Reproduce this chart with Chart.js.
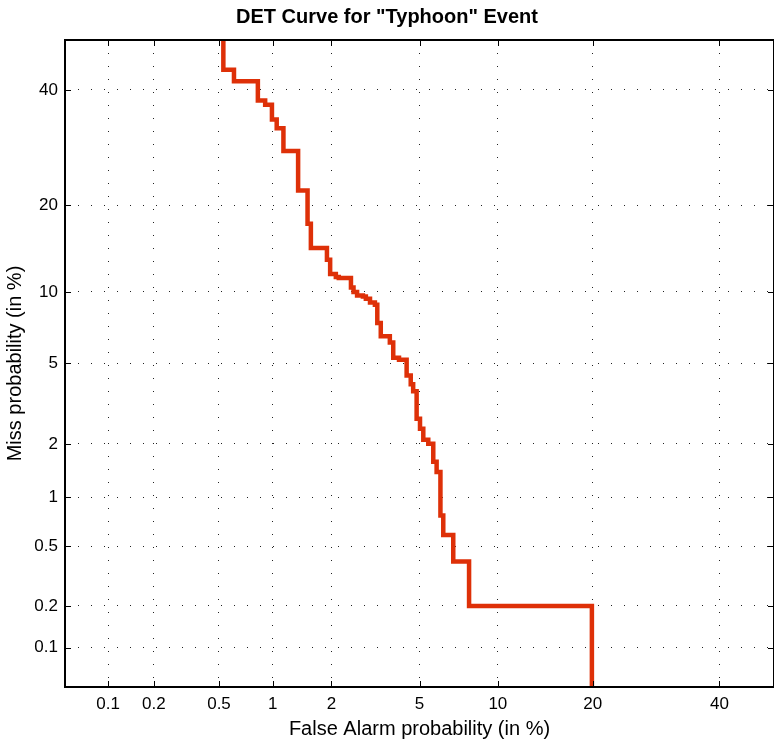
<!DOCTYPE html>
<html>
<head>
<meta charset="utf-8">
<script src="https://cdn.jsdelivr.net/npm/chart.js@4.4.1/dist/chart.umd.min.js"></script>
<style>
  html, body { margin: 0; padding: 0; background: #fff; }
  canvas { display: block; }
</style>
</head>
<body>
<canvas id="det" width="774" height="743"></canvas>
<script>
// DET curve, both axes on a normal-deviate (probit) scale, values in %

const xTicks = [0.1, 0.2, 0.5, 1, 2, 5, 10, 20, 40];
const xTickLabels = ['0.1', '0.2', '0.5', '1', '2', '5', '10', '20', '40'];
const yTicks = [0.1, 0.2, 0.5, 1, 2, 5, 10, 20, 40];
const yTickLabels = ['0.1', '0.2', '0.5', '1', '2', '5', '10', '20', '40'];
const axisMin = 0.05;   // %
const axisMax = 50;     // %

// operating points (corners of the staircase), false alarm % / miss %
const falseAlarm = [0.53, 0.61, 0.83, 0.91, 0.99, 1.05, 1.14, 1.36, 1.52, 1.58,
  1.90, 1.97, 2.10, 2.17, 2.48, 2.55, 2.65, 2.82, 2.91, 3.04,
  3.20, 3.28, 3.40, 3.73, 3.86, 4.09, 4.41, 4.59, 4.70, 4.86,
  5.02, 5.18, 5.43, 5.69, 5.87, 6.08, 6.24, 6.83, 7.85, 19.9, 19.9];
const missRate = [90, 44.0, 41.7, 37.9, 37.1, 34.3, 32.7, 28.6, 22.2, 17.5,
  14.5, 13.2, 11.7, 11.4, 11.3, 10.4, 10.0, 9.7, 9.6, 9.4,
  9.1, 8.9, 7.5, 6.6, 6.2, 5.3, 5.2, 4.4, 4.0, 3.7,
  2.7, 2.4, 2.1, 2.0, 1.6, 1.4, 0.78, 0.59, 0.40, 0.20, 0.02];

// inverse normal CDF (Acklam)
function probit(p) {
  const a = [-3.969683028665376e+01, 2.209460984245205e+02, -2.759285104469687e+02,
    1.383577518672690e+02, -3.066479806614716e+01, 2.506628277459239e+00];
  const b = [-5.447609879822406e+01, 1.615858368580409e+02, -1.556989798598866e+02,
    6.680131188771972e+01, -1.328068155288572e+01];
  const c = [-7.784894002430293e-03, -3.223964580411365e-01, -2.400758277161838e+00,
    -2.549671134902537e+00, 4.374664141464968e+00, 2.938163982698783e+00];
  const d = [7.784695709041462e-03, 3.224671290700398e-01, 2.445134137142996e+00,
    3.754408661907416e+00];
  const pl = 0.02425;
  if (p < pl) {
    const q = Math.sqrt(-2 * Math.log(p));
    return (((((c[0]*q + c[1])*q + c[2])*q + c[3])*q + c[4])*q + c[5]) /
           ((((d[0]*q + d[1])*q + d[2])*q + d[3])*q + 1);
  }
  if (p > 1 - pl) {
    const q = Math.sqrt(-2 * Math.log(1 - p));
    return -(((((c[0]*q + c[1])*q + c[2])*q + c[3])*q + c[4])*q + c[5]) /
            ((((d[0]*q + d[1])*q + d[2])*q + d[3])*q + 1);
  }
  const q = p - 0.5, r = q * q;
  return (((((a[0]*r + a[1])*r + a[2])*r + a[3])*r + a[4])*r + a[5]) * q /
         (((((b[0]*r + b[1])*r + b[2])*r + b[3])*r + b[4])*r + 1);
}
const pct = v => probit(v / 100);

const points = falseAlarm.map((fa, i) => ({ x: pct(fa), y: pct(missRate[i]) }));

const FONT = 'Liberation Sans, Arial, Helvetica, sans-serif';
Chart.defaults.font.family = FONT;
Chart.defaults.color = '#000';

// box around the plot + inward tick marks on all four sides (matlab look)
const boxTicks = {
  id: 'boxTicks',
  afterDatasetsDraw(chart) {
    const { ctx, chartArea: a, scales: { x, y } } = chart;
    const len = 6;
    ctx.save();
    ctx.strokeStyle = '#000';
    ctx.lineWidth = 1;
    ctx.beginPath();
    xTicks.forEach(t => {
      const px = Math.round(x.getPixelForValue(pct(t))) + 0.5;
      ctx.moveTo(px, a.bottom); ctx.lineTo(px, a.bottom - len);
      ctx.moveTo(px, a.top); ctx.lineTo(px, a.top + len);
    });
    yTicks.forEach(t => {
      const py = Math.round(y.getPixelForValue(pct(t))) + 0.5;
      ctx.moveTo(a.left, py); ctx.lineTo(a.left + len, py);
      ctx.moveTo(a.right, py); ctx.lineTo(a.right - len, py);
    });
    ctx.stroke();
    ctx.lineWidth = 2;
    ctx.strokeRect(a.left, a.top, a.right - a.left, a.bottom - a.top);
    ctx.restore();
  }
};

const dotted = {
  grid: { color: '#222', lineWidth: 1, drawTicks: false },
  border: { display: false, dash: [1, 12] },
};

new Chart(document.getElementById('det'), {
  type: 'line',
  data: {
    datasets: [{
      data: points,
      borderColor: 'rgb(222,48,8)',
      borderWidth: 4.5,
      borderJoinStyle: 'miter',
      borderCapStyle: 'butt',
      stepped: 'after',
      pointRadius: 0,
      fill: false,
    }],
  },
  options: {
    responsive: false,
    animation: false,
    layout: { padding: { left: 0, right: 0, top: 0, bottom: 0 } },
    plugins: {
      legend: { display: false },
      tooltip: { enabled: false },
      title: {
        display: true,
        text: 'DET Curve for "Typhoon" Event',
        font: { size: 20, weight: 'bold' },
        color: '#000',
        padding: { top: 5, bottom: 11 },
      },
    },
    scales: {
      x: {
        type: 'linear',
        min: pct(axisMin),
        max: pct(axisMax),
        ...dotted,
        afterBuildTicks: s => { s.ticks = xTicks.map(t => ({ value: pct(t) })); },
        afterFit: s => { s.height = 56; },
        ticks: {
          font: { size: 17 },
          padding: 7,
          maxRotation: 0,
          autoSkip: false,
          callback: (v, i) => xTickLabels[i],
        },
        title: {
          display: true,
          text: 'False Alarm probability (in %)',
          font: { size: 20 },
          padding: { top: 0, bottom: 2 },
        },
      },
      y: {
        type: 'linear',
        min: pct(axisMin),
        max: pct(axisMax),
        ...dotted,
        afterBuildTicks: s => { s.ticks = yTicks.map(t => ({ value: pct(t) })); },
        afterFit: s => { s.width = 65; },
        ticks: {
          font: { size: 17 },
          padding: 7,
          autoSkip: false,
          callback: (v, i) => yTickLabels[i],
        },
        title: {
          display: true,
          text: 'Miss probability (in %)',
          font: { size: 20 },
          padding: { top: 3, bottom: 0 },
        },
      },
    },
  },
  plugins: [boxTicks],
});
</script>
</body>
</html>
